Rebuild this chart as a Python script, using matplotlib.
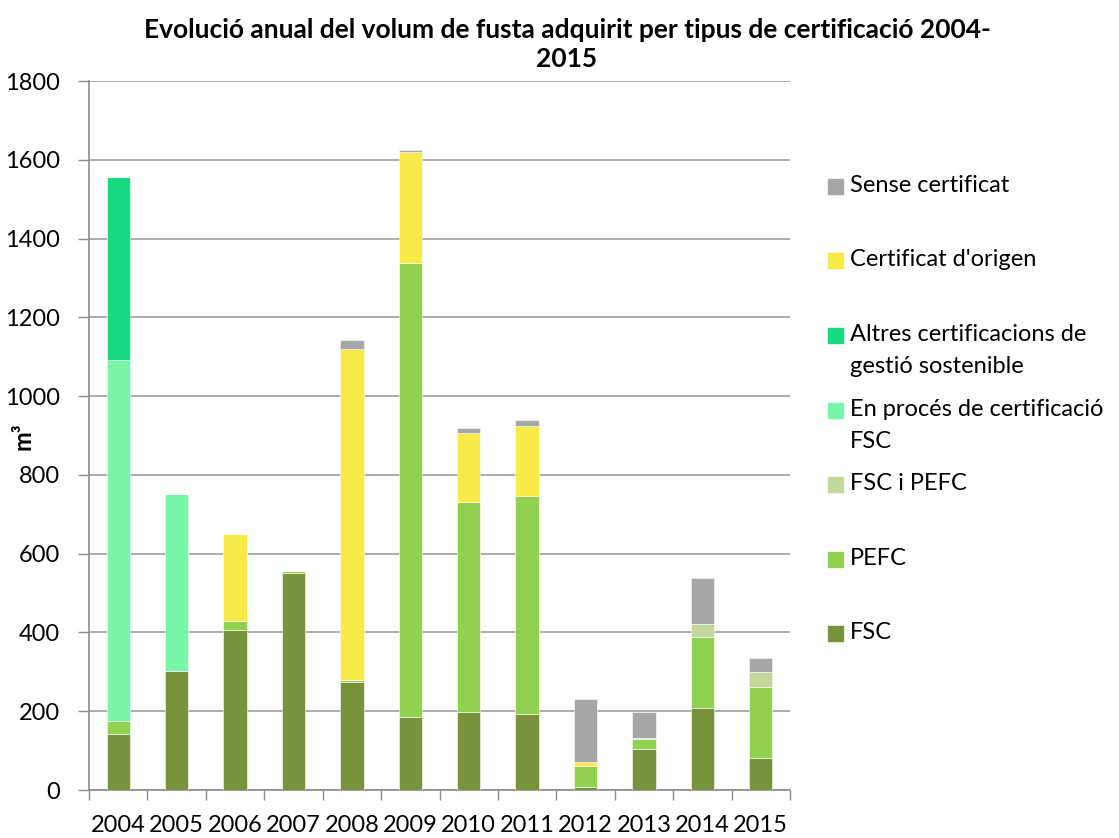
import numpy as np
import matplotlib.pyplot as plt
from matplotlib.patches import Rectangle

years = ["2004", "2005", "2006", "2007", "2008", "2009",
         "2010", "2011", "2012", "2013", "2014", "2015"]

fsc = [142, 302, 405, 550, 275, 186, 197, 194, 7, 105, 209, 80]
pefc = [32, 0, 25, 5, 3, 1152, 534, 552, 55, 25, 179, 182]
fsc_pefc = [0, 0, 0, 0, 0, 0, 0, 0, 0, 2, 33, 38]
en_proces = [918, 450, 0, 0, 0, 0, 0, 0, 0, 0, 0, 0]
altres = [465, 0, 0, 0, 0, 0, 0, 0, 0, 0, 0, 0]
origen = [0, 0, 220, 0, 842, 283, 175, 178, 8, 0, 0, 0]
sense = [0, 0, 0, 0, 23, 5, 13, 15, 160, 67, 117, 36]

series = [
    ("FSC", fsc, "#77933C"),
    ("PEFC", pefc, "#92D050"),
    ("FSC i PEFC", fsc_pefc, "#C3D69B"),
    ("En procés de certificació\nFSC", en_proces, "#77F5A9"),
    ("Altres certificacions de\ngestió sostenible", altres, "#17D97F"),
    ("Certificat d'origen", origen, "#F9EB47"),
    ("Sense certificat", sense, "#A6A6A6"),
]


def main():
    plt.rcParams['font.family'] = ['Lato', 'DejaVu Sans']
    W, H = 1119, 838
    fig = plt.figure(figsize=(W/100, H/100), dpi=100)
    ax = fig.add_axes([89/W, 48/H, 701/W, 709/H])

    x = np.arange(len(years))
    bottom = np.zeros(len(years))
    for label, vals, color in series:
        vals = np.array(vals, dtype=float)
        ax.bar(x, vals, 0.4, bottom=bottom, color=color, label=label,
               edgecolor="white", linewidth=0.4, zorder=3)
        bottom += vals

    ax.set_xlim(-0.5, len(years) - 0.5)
    ax.set_ylim(0, 1800)
    ax.set_yticks(np.arange(0, 1801, 200))
    ax.set_xticks(x)
    ax.set_xticklabels(years)
    ax.set_xticks(np.arange(-0.5, len(years), 1), minor=True)
    ax.tick_params(axis="x", which="major", length=0, labelsize=17, pad=18)
    ax.tick_params(axis="x", which="minor", length=7, color="#8c8c8c", width=1)
    ax.tick_params(axis="y", length=8, color="#8c8c8c", width=1, labelsize=17, pad=13)
    ax.grid(axis="y", color="#a6a6a6", linewidth=1.3, zorder=0)
    for s in ["top", "right"]:
        ax.spines[s].set_visible(False)
    for s in ["left", "bottom"]:
        ax.spines[s].set_color("#8c8c8c")
        ax.spines[s].set_linewidth(1.2)
    fig.text(23/W, 1 - 436/H, "m³", rotation=90, ha="center", va="center",
             fontsize=17, fontweight="bold")

    fig.text(567/W, 1 - 30/H,
             "Evolució anual del volum de fusta adquirit per tipus de certificació 2004-",
             ha="center", va="center", fontsize=19, fontweight="bold")
    fig.text(567/W, 1 - 59/H, "2015",
             ha="center", va="center", fontsize=19, fontweight="bold")

    # legend, drawn by hand to copy the spacing of the original
    for i, (label, vals, color) in enumerate(reversed(series)):
        ytop = 187 + 74.5 * i
        fig.patches.append(Rectangle((828/W, 1 - (ytop + 7)/H), 15/W, 15/H,
                                     transform=fig.transFigure, color=color))
        fig.text(850/W, 1 - (ytop - 12)/H, label, ha="left", va="top",
                 fontsize=17, linespacing=1.65)

    fig.savefig("out.png", dpi=100)


if __name__ == "__main__":
    main()
